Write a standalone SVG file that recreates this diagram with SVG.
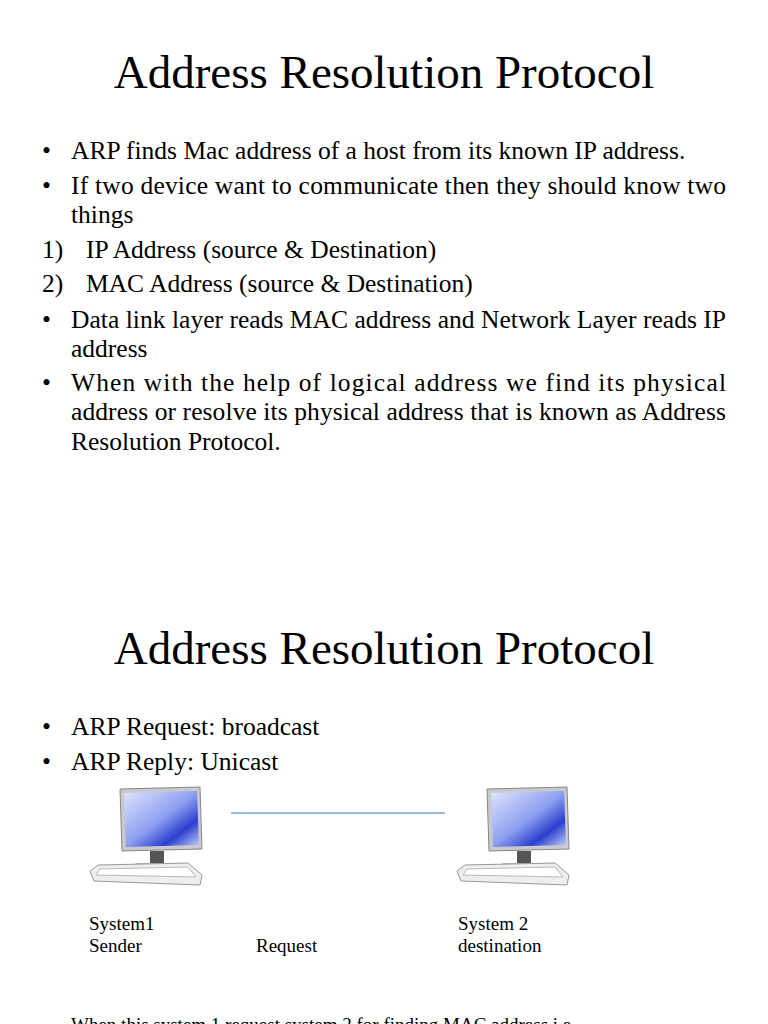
<svg xmlns="http://www.w3.org/2000/svg" width="768" height="1024" viewBox="0 0 768 1024">
<style>
text{font-family:"Liberation Serif","Times New Roman",serif;fill:#000}
.t{font-size:47px}
.b{font-size:25.5px}
.s{font-size:19px}
</style>
<defs>
<linearGradient id="scr" x1="0" y1="0" x2="1" y2="1">
<stop offset="0" stop-color="#dfe6fb"/><stop offset="0.5" stop-color="#8d9ff0"/><stop offset="0.75" stop-color="#2a3fcf"/><stop offset="1" stop-color="#c9d3fa"/>
</linearGradient>
<g id="pc">
<path d="M32 0 L112 -2 L114 60 L34 62 Z" fill="#c9c9cf" stroke="#888" stroke-width="1"/>
<path d="M36 4 L109 2 L111 56 L38 58 Z" fill="url(#scr)"/>
<rect x="62" y="62" width="14" height="12" fill="#555"/>
<path d="M48 74 L92 74 L96 80 L44 80 Z" fill="#bbb"/>
<path d="M10 76 L100 74 L114 86 L112 96 L6 92 L2 82 Z" fill="#eee" stroke="#999"/>
<path d="M12 80 L100 78 L108 88 L8 86 Z" fill="#fff" stroke="#aaa" stroke-width="0.8"/>
</g>
</defs>
<text class="t" x="384" y="88" text-anchor="middle">Address Resolution Protocol</text>
<g class="b">
<text x="42" y="159">•</text><text x="71" y="159">ARP finds Mac address of a host from its known IP address.</text>
<text x="42" y="194">•</text><text x="71" y="194" textLength="655" lengthAdjust="spacing">If two device want to communicate then they should know two</text>
<text x="71" y="223">things</text>
<text x="42" y="258">1)</text><text x="86" y="258">IP Address (source &amp; Destination)</text>
<text x="42" y="292">2)</text><text x="86" y="292">MAC Address (source &amp; Destination)</text>
<text x="42" y="328">•</text><text x="71" y="328" textLength="655" lengthAdjust="spacing">Data link layer reads MAC address and Network Layer reads IP</text>
<text x="71" y="357">address</text>
<text x="42" y="391">•</text><text x="71" y="391" textLength="655" lengthAdjust="spacing">When with the help of logical address we find its physical</text>
<text x="71" y="420" textLength="655" lengthAdjust="spacing">address or resolve its physical address that is known as Address</text>
<text x="71" y="450">Resolution Protocol.</text>
</g>
<text class="t" x="384" y="664" text-anchor="middle">Address Resolution Protocol</text>
<g class="b">
<text x="42" y="735">•</text><text x="71" y="735">ARP Request: broadcast</text>
<text x="42" y="770">•</text><text x="71" y="770">ARP Reply: Unicast</text>
</g>
<g id="system1"><use href="#pc" x="88" y="789"/></g>
<g id="system2"><use href="#pc" x="455" y="789"/></g>
<g id="connectors"><line x1="231" y1="813" x2="445" y2="813" stroke="#7fa3d6" stroke-width="1.5"/></g>
<g class="s">
<text x="89" y="930">System1</text><text x="89" y="952">Sender</text>
<text x="256" y="952">Request</text>
<text x="458" y="930">System 2</text><text x="458" y="952">destination</text>
<text x="71" y="1031">When this system 1 request system 2 for finding MAC address i.e.</text>
</g>
</svg>
